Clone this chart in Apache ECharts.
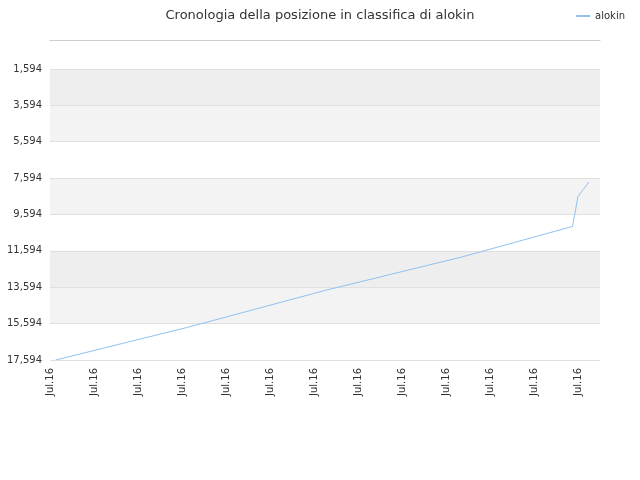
<!DOCTYPE html><html><head><meta charset="utf-8">
<script src="https://cdn.jsdelivr.net/npm/echarts@6/dist/echarts.min.js"></script>
<style>html,body{margin:0;padding:0}#c{width:640px;height:480px}</style></head><body><div id="c"></div><script>
const categories = Array.from({length:101},()=> 'Jul.16');
const pointIdx = [1, 25, 50, 75, 95, 96, 97, 98];
const pointVal = [17594, 15800, 13770, 11920, 10250, 8600, 8200, 7800];
const yTicks = [1594,3594,5594,7594,9594,11594,13594,15594,17594];
const values = categories.map(()=>null);
pointIdx.forEach((i,k)=>values[i]=pointVal[k]);
const chart = echarts.init(document.getElementById('c'));
chart.setOption({
  animation:false,
  title:{text:'Cronologia della posizione in classifica di alokin',left:'center',top:4,textStyle:{fontSize:13,fontWeight:'normal',color:'#333',fontFamily:'DejaVu Sans'}},
  legend:{data:['alokin'],right:10,top:6,itemWidth:14,itemHeight:2,textStyle:{fontSize:10,color:'#333',fontFamily:'DejaVu Sans'}},
  grid:{left:50,right:40,top:40,bottom:120},
  xAxis:{type:'category',data:categories,boundaryGap:false,
    axisLine:{lineStyle:{color:'#ccc'}},axisTick:{show:false},
    axisLabel:{rotate:90,interval:7,fontSize:10,color:'#333',fontFamily:'DejaVu Sans'},splitLine:{show:false}},
  yAxis:{type:'value',inverse:true,min:0,max:17594,
    axisLine:{show:false},axisTick:{show:false,customValues:yTicks},
    axisLabel:{fontSize:10,color:'#333',fontFamily:'DejaVu Sans',customValues:yTicks},
    splitLine:{lineStyle:{color:'#e0e0e0'}},
    splitArea:{show:true,areaStyle:{color:['#eeeeee','#f3f3f3','#ffffff','#f3f3f3','#ffffff']}}},
  series:[{name:'alokin',type:'line',data:values,connectNulls:true,symbol:'none',
    lineStyle:{color:'#8fc1f0',width:1},itemStyle:{color:'#8fc1f0'}}]
});
</script></body></html>
